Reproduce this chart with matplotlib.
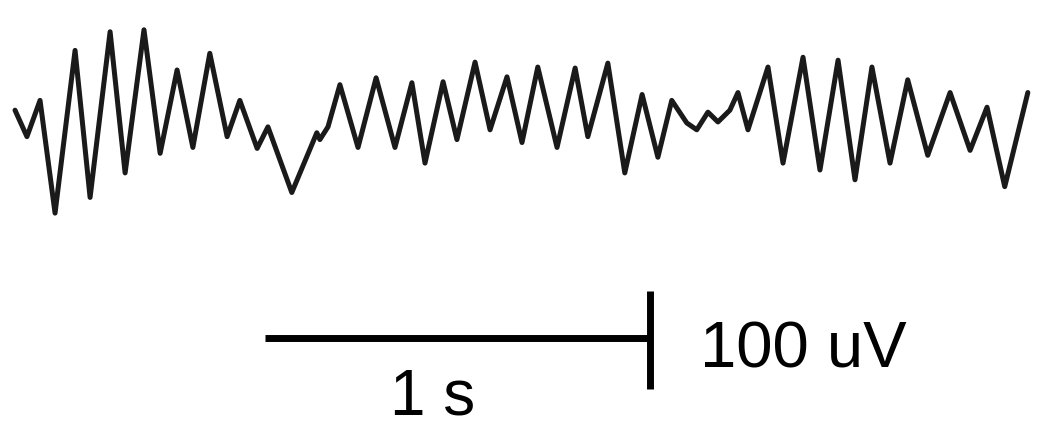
import matplotlib
matplotlib.use("Agg")
import matplotlib.pyplot as plt

# EEG trace turning points
time_s = [
    0.000, 0.031, 0.065, 0.104, 0.156, 0.195, 0.247, 0.286, 0.335, 0.377,
    0.421, 0.462, 0.506, 0.551, 0.584, 0.629, 0.657, 0.719, 0.784, 0.792,
    0.813, 0.844, 0.891, 0.938, 0.987, 1.031, 1.065, 1.112, 1.148, 1.195,
    1.234, 1.278, 1.317, 1.358, 1.408, 1.455, 1.488, 1.540, 1.584, 1.629,
    1.670, 1.706, 1.745, 1.771, 1.800, 1.826, 1.857, 1.878, 1.904, 1.956,
    1.995, 2.047, 2.091, 2.138, 2.182, 2.226, 2.273, 2.319, 2.371, 2.429,
    2.481, 2.525, 2.571, 2.631,
]
amplitude_uv = [
    10, -17, 20, -95, 71, -79, 90, -54, 92, -34,
    51, -28, 68, -17, 20, -29, -7, -74, -13, -20,
    -7, 36, -28, 43, -28, 38, -44, 39, -20, 59,
    -10, 44, -23, 54, -28, 53, -17, 58, -54, 26,
    -38, 20, -3, -10, 8, -2, 10, 28, -10, 54,
    -44, 64, -51, 61, -61, 54, -44, 41, -36, 28,
    -31, 13, -68, 28,
]

# scale bar
bar_seconds = 1.0
bar_microvolts = 100
bar_t0 = 0.649
bar_v = -222

fig = plt.figure(figsize=(10.39, 4.28), dpi=100)
ax = fig.add_axes([0, 0, 1, 1])

ax.plot(time_s, amplitude_uv, color="#1a1a1a", linewidth=3.6,
        solid_joinstyle="round", solid_capstyle="round")

bar_t1 = bar_t0 + bar_seconds
ax.plot([bar_t0, bar_t1], [bar_v, bar_v], color="black", linewidth=5,
        solid_capstyle="butt")
ax.plot([bar_t1, bar_t1], [bar_v + 48, bar_v + 48 - bar_microvolts],
        color="black", linewidth=5, solid_capstyle="butt")

ax.text(bar_t1 + 0.13, -252, f"{bar_microvolts} uV", fontsize=47,
        family="Liberation Sans", va="baseline", ha="left")
ax.text(0.975, -300, f"{bar_seconds:g} s", fontsize=46,
        family="Liberation Sans", va="baseline", ha="left")

ax.set_xlim(-0.039, 2.660)
ax.set_ylim(-314.2, 122.4)
ax.axis("off")

fig.savefig("out.png", dpi=100, facecolor="white")
